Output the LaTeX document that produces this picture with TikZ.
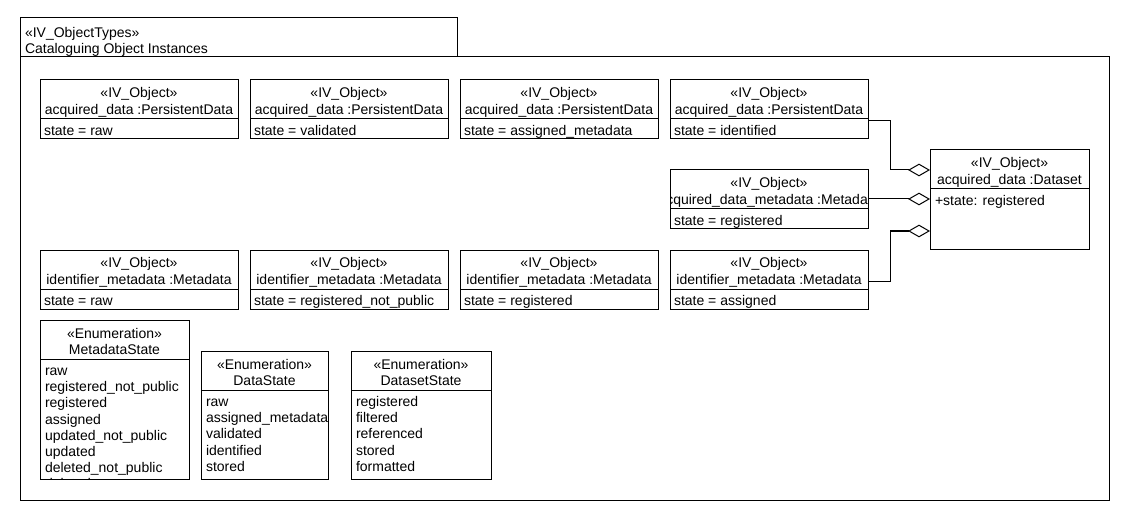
\documentclass[tikz,border=0pt]{standalone}
\usepackage{fontspec}
\setmainfont{Liberation Sans}
\usetikzlibrary{arrows.meta}
\tikzset{
 box/.style={draw, line width=0.75pt, inner sep=0pt, outer sep=0pt, fill=white},
 txt/.style={inner sep=0pt, outer sep=0pt, font=\fontsize{10.5pt}{12pt}\selectfont},
 agg/.style={draw, line width=0.75pt, -{Diamond[open, length=16.5pt, width=9.5pt, line width=0.75pt]}},
}
% object box: name, x1, top, x2, line2, attribute
\newcommand\objbox[6]{%
 \node[box, minimum width={(#4-#2)*0.75pt}, minimum height={59*0.75pt}, anchor=north west] (#1) at (#2,#3) {};
 \draw[line width=0.75pt] (#2,#3+39) -- (#4,#3+39);
 \begin{scope}
  \clip (#1.north west) rectangle (#1.south east);
  \node[txt, anchor=base] (#1-a) at ({(#2+#4)/2},#3+17.5) {«IV\_Object»};
  \node[txt, anchor=base] (#1-b) at ({(#2+#4)/2},#3+34.5) {#5};
  \node[txt, anchor=base west] (#1-c) at (#2+4,#3+55.5) {#6};
 \end{scope}}
% enumeration box: name, x1, top, x2, bottom, name, items
\newcommand\enumbox[7]{%
 \node[box, minimum width={(#4-#2)*0.75pt}, minimum height={(#5-#3)*0.75pt}, anchor=north west] (#1) at (#2,#3) {};
 \draw[line width=0.75pt] (#2,#3+39) -- (#4,#3+39);
 \begin{scope}
  \clip (#1.north west) rectangle (#1.south east);
  \node[txt, anchor=base] (#1-a) at ({(#2+#4)/2},#3+18.5) {«Enumeration»};
  \node[txt, anchor=base] (#1-b) at ({(#2+#4)/2},#3+34.5) {#6};
  \foreach \t [count=\i] in {#7}
   \node[txt, anchor=base west] (#1-i\i) at (#2+5,{#3+39+16.5+(\i-1)*16.2}) {\t};
 \end{scope}}
\begin{document}
\begin{tikzpicture}[x=0.75pt, y=-0.75pt]
\fill[white] (0,0) rectangle (1130,520);
\useasboundingbox (0,0) rectangle (1130,520);
% package frame
\node[box, minimum width={1089*0.75pt}, minimum height={443*0.75pt}, anchor=north west] (frame) at (20,57) {};
\node[box, minimum width={437*0.75pt}, minimum height={39*0.75pt}, anchor=north west] (tab) at (20,18) {};
\node[txt, anchor=base west] (tab-a) at (25,37.5) {«IV\_ObjectTypes»};
\node[txt, anchor=base west] (tab-b) at (25,53.5) {Cataloguing Object Instances};
% top row
\objbox{p1}{40}{80}{238}{acquired\_data :PersistentData}{state = raw}
\objbox{p2}{250}{80}{448}{acquired\_data :PersistentData}{state = validated}
\objbox{p3}{460}{80}{658}{acquired\_data :PersistentData}{state = assigned\_metadata}
\objbox{p4}{670}{80}{868}{acquired\_data :PersistentData}{state = identified}
% middle
\objbox{m1}{670}{170}{868}{acquired\_data\_metadata :Metadata}{state = registered}
% bottom row
\objbox{b1}{40}{250}{238}{identifier\_metadata :Metadata}{state = raw}
\objbox{b2}{250}{250}{448}{identifier\_metadata :Metadata}{state = registered\_not\_public}
\objbox{b3}{460}{250}{658}{identifier\_metadata :Metadata}{state = registered}
\objbox{b4}{670}{250}{868}{identifier\_metadata :Metadata}{state = assigned}
% dataset
\node[box, minimum width={159*0.75pt}, minimum height={99*0.75pt}, anchor=north west] (ds) at (930,150) {};
\draw[line width=0.75pt] (930,189) -- (1089,189);
\node[txt, anchor=base] (ds-a) at (1009.5,167.5) {«IV\_Object»};
\node[txt, anchor=base] (ds-b) at (1009.5,184.5) {acquired\_data :Dataset};
\node[txt, anchor=base west] (ds-c) at (935,205.5) {+state: registered};
% connectors
\draw[agg] (p4.east |- 0,121) -- (890,121) |- (ds.west |- 0,170);
\draw[agg] (m1.east |- 0,199) -- (ds.west |- 0,199);
\draw[agg] (b4.east |- 0,281) -| (890,231) -- (ds.west |- 0,231);
% enumerations
\enumbox{e1}{40}{320}{189}{479}{MetadataState}{raw, registered\_not\_public, registered, assigned, updated\_not\_public, updated, deleted\_not\_public, deleted}
\enumbox{e2}{201}{351}{328}{479}{DataState}{raw, assigned\_metadata, validated, identified, stored}
\enumbox{e3}{351}{351}{491}{479}{DatasetState}{registered, filtered, referenced, stored, formatted}
\end{tikzpicture}
\end{document}
